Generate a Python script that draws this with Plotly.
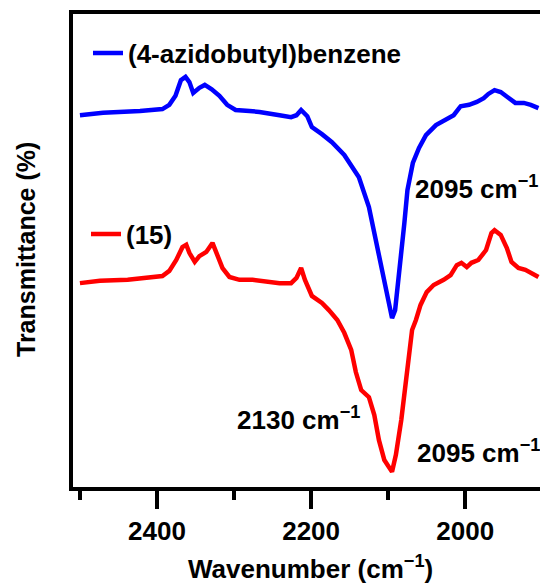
import plotly.graph_objects as go

# FTIR spectra in the azide stretching region
wn_azide = [2500, 2470, 2422, 2393, 2384, 2376, 2369, 2363, 2358, 2353, 2345, 2338,
            2329, 2319, 2309, 2298, 2280, 2267, 2241, 2226, 2219, 2213, 2205, 2199,
            2186, 2173, 2157, 2144, 2138, 2125, 2114, 2103, 2095, 2091, 2089, 2085,
            2079, 2075, 2068, 2060, 2051, 2038, 2025, 2015, 2006, 1995, 1985, 1976,
            1970, 1962, 1954, 1944, 1935, 1924, 1915, 1905]
t_azide = [78.6, 79.1, 79.5, 79.9, 80.8, 82.7, 86.0, 86.7, 85.6, 83.3, 84.4, 85.0,
           84.1, 82.7, 80.8, 79.7, 79.5, 79.3, 78.6, 78.2, 78.6, 79.7, 78.4, 76.1,
           74.6, 72.9, 70.2, 67.0, 65.5, 59.2, 50.7, 41.6, 35.7, 37.4, 40.2, 45.9,
           55.8, 62.8, 68.5, 71.7, 74.4, 76.5, 77.6, 78.6, 80.5, 80.8, 81.4, 82.2,
           83.1, 83.9, 83.5, 82.2, 81.2, 81.2, 80.8, 80.1]

wn_15 = [2500, 2474, 2438, 2418, 2393, 2384, 2375, 2367, 2362, 2358, 2351, 2345,
         2336, 2328, 2323, 2315, 2306, 2293, 2276, 2267, 2241, 2226, 2219, 2213,
         2208, 2199, 2186, 2177, 2166, 2157, 2148, 2142, 2135, 2125, 2118, 2112,
         2105, 2095, 2090, 2083, 2076, 2069, 2064, 2058, 2050, 2041, 2028, 2019,
         2011, 2005, 1998, 1992, 1983, 1973, 1966, 1962, 1954, 1946, 1940, 1931,
         1922, 1914, 1905]
t_15 = [43.1, 43.6, 43.8, 44.2, 44.6, 45.7, 48.0, 50.7, 51.2, 49.5, 47.6, 48.8,
        49.7, 51.6, 49.3, 46.3, 44.4, 43.8, 43.8, 43.6, 43.1, 43.1, 44.2, 46.3,
        43.8, 40.4, 38.9, 37.4, 35.3, 32.6, 29.0, 24.3, 20.5, 19.0, 15.2, 9.9,
        5.7, 3.2, 6.8, 14.2, 24.7, 33.2, 35.3, 38.5, 41.2, 42.7, 43.8, 44.8,
        46.9, 47.4, 46.5, 47.4, 48.0, 50.1, 53.7, 54.3, 53.3, 50.5, 47.6, 46.3,
        45.9, 45.2, 44.4]

name_azide = "(4-azidobutyl)benzene"
name_15 = "(15)"

FONT = "Liberation Sans, Arial, sans-serif"
bold = dict(family=FONT, size=26, color="black", weight="bold")
bold_ytitle = dict(family=FONT, size=25, color="black", weight="bold")

fig = go.Figure()
fig.add_trace(go.Scatter(x=wn_azide, y=t_azide, mode="lines", name=name_azide,
                         line=dict(color="#0000FF", width=4.5), legend="legend"))
fig.add_trace(go.Scatter(x=wn_15, y=t_15, mode="lines", name=name_15,
                         line=dict(color="#FF0000", width=4.5), legend="legend2"))

# peak annotations (left edge and vertical centre in pixels)
peak_labels = [
    ("2095 cm<sup>\u22121</sup>", 413, 188),
    ("2130 cm<sup>\u22121</sup>", 235, 418),
    ("2095 cm<sup>\u22121</sup>", 415, 451),
]
L, T, W, H = 73, 14, 467, 473
annotations = []
for txt, px, py in peak_labels:
    annotations.append(dict(text=txt, xref="paper", yref="paper",
                            x=(px - L) / W, y=(T + H - py) / H,
                            xanchor="left", yanchor="middle", showarrow=False,
                            font=bold))
# axis titles
annotations.append(dict(text="Wavenumber (cm<sup>\u22121</sup>)", xref="paper", yref="paper",
                        x=(310 - L) / W, y=(T + H - 567) / H, xanchor="center",
                        yanchor="middle", showarrow=False, font=bold))
annotations.append(dict(text="Transmittance (%)", xref="paper", yref="paper",
                        x=(26 - L) / W, y=(T + H - 250) / H, xanchor="center",
                        yanchor="middle", textangle=-90, showarrow=False,
                        font=bold_ytitle))

legend_style = dict(font=bold, bgcolor="rgba(0,0,0,0)", borderwidth=0,
                    xanchor="left", yanchor="middle", itemwidth=30)

fig.update_layout(
    width=540, height=584,
    margin=dict(l=L, r=0, t=T, b=584 - T - H),
    paper_bgcolor="white", plot_bgcolor="white",
    showlegend=True,
    legend=dict(x=(88 - L) / W, y=(T + H - 53) / H, **legend_style),
    legend2=dict(x=(86 - L) / W, y=(T + H - 234) / H, **legend_style),
    annotations=annotations,
    xaxis=dict(range=[2509, 1903], showline=True, linewidth=3.5, linecolor="black",
               mirror=True, ticks="outside", ticklen=18, tickwidth=3.5,
               tickcolor="black", tick0=2000, dtick=200, tickfont=bold,
               showgrid=False, zeroline=False,
               minor=dict(ticks="outside", tick0=2000, dtick=100, ticklen=9,
                          tickwidth=3.5, tickcolor="black", showgrid=False)),
    yaxis=dict(range=[0, 100], showline=True, linewidth=3.5, linecolor="black",
               mirror=False, ticks="", showticklabels=False,
               showgrid=False, zeroline=False),
)

fig.write_html("out.html", config={"displayModeBar": False})
